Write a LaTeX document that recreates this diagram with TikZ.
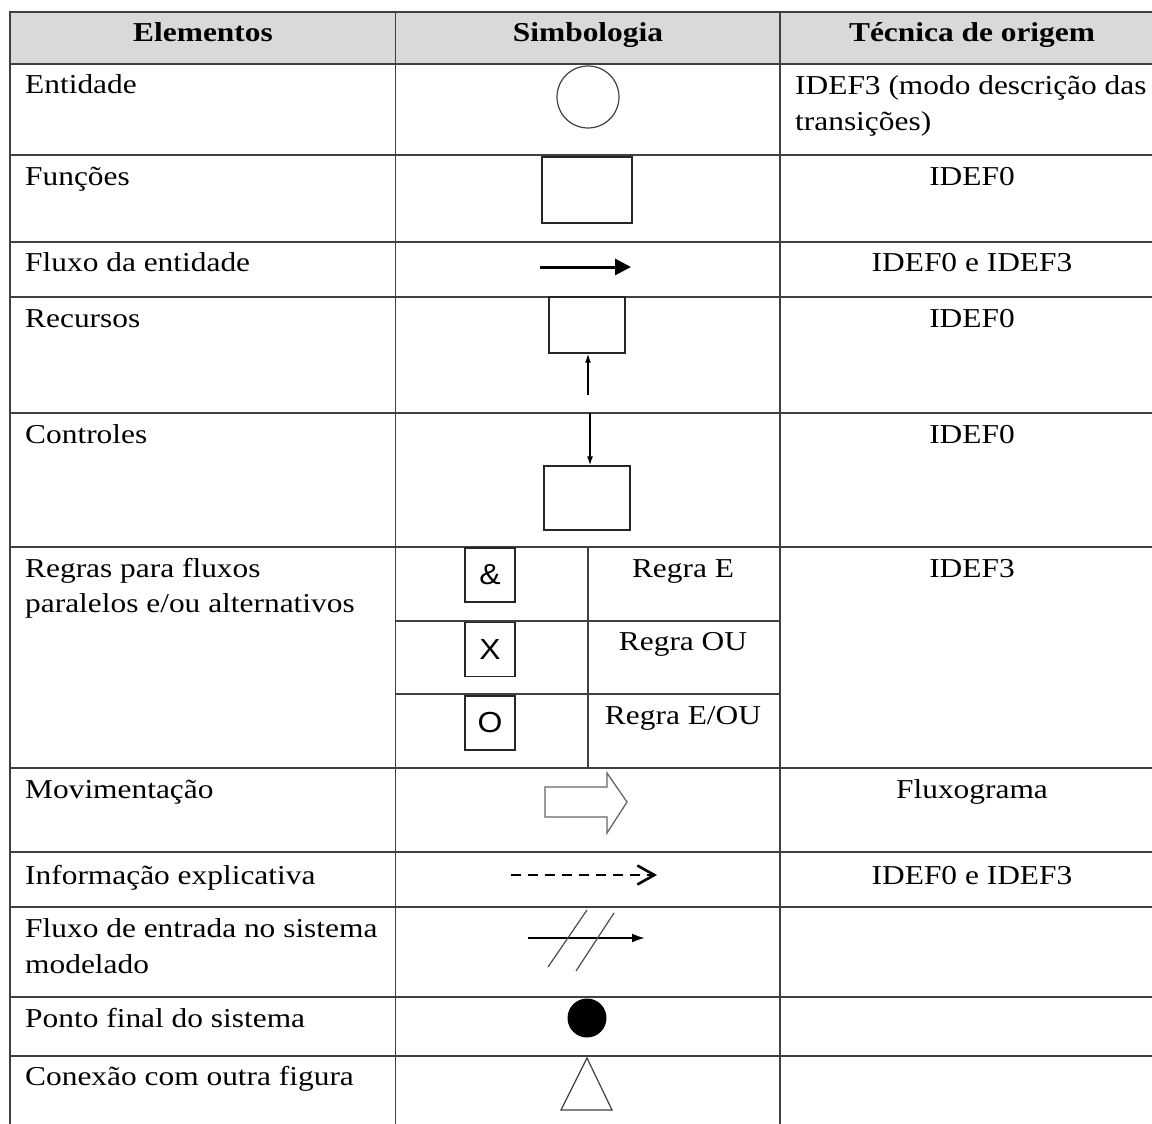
\documentclass[tikz,border=0pt]{standalone}
\usepackage{fontspec}
\setmainfont{Liberation Serif}[FakeStretch=1.15]
\newfontfamily\symfont{Liberation Sans}[FakeStretch=1.1]
\usetikzlibrary{arrows.meta}
\definecolor{hdrgray}{HTML}{D9D9D9}
\definecolor{gridc}{HTML}{404040}
\tikzset{
  lbl/.style={anchor=base west, inner sep=0pt, font=\fontsize{27.3}{35}\selectfont},
  ctr/.style={anchor=base, inner sep=0pt, font=\fontsize{27.3}{35}\selectfont},
  hdr/.style={anchor=base, inner sep=0pt, font=\fontsize{27.3}{35}\selectfont\bfseries},
  gridline/.style={draw=gridc, line width=1.4pt},
  symbox/.style={draw=black!85, line width=1.3pt, inner sep=0pt},
  rulebox/.style={draw=black!85, line width=1.3pt, inner sep=0pt, minimum width=50pt, minimum height=54pt, font=\symfont\fontsize{29}{32}\selectfont},
}
\begin{document}
\begin{tikzpicture}[x=1pt,y=-1pt]
\useasboundingbox (0,0) rectangle (1152,1124);
% header background
\fill[hdrgray] (10,12) rectangle (1160,64);
% horizontal lines
\foreach \yy in {12,64,155,242,297,413,547,768,852,907,997,1056}
  \draw[gridline] (10,\yy) -- (1160,\yy);
\draw[gridline] (395.5,621) -- (780,621);
\draw[gridline] (395.5,694) -- (780,694);
% vertical lines
\foreach \xx in {10,395.5,780}
  \draw[gridline] (\xx,11) -- (\xx,1130);
\draw[gridline] (588,547) -- (588,768);

% header
\node[hdr] (h1) at (203,42) {Elementos};
\node[hdr] (h2) at (588,42) {Simbologia};
\node[hdr] (h3) at (972,42) {Técnica de origem};

% column 1
\node[lbl] (e1) at (25,94) {Entidade};
\node[lbl] (e2) at (25,185) {Funções};
\node[lbl] (e3) at (25,271) {Fluxo da entidade};
\node[lbl] (e4) at (25,327) {Recursos};
\node[lbl] (e5) at (25,443) {Controles};
\node[lbl] (e6a) at (25,577) {Regras para fluxos};
\node[lbl] (e6b) at (25,612) {paralelos e/ou alternativos};
\node[lbl] (e7) at (25,798) {Movimentação};
\node[lbl] (e8) at (25,884) {Informação explicativa};
\node[lbl] (e9a) at (25,937) {Fluxo de entrada no sistema};
\node[lbl] (e9b) at (25,973) {modelado};
\node[lbl] (e10) at (25,1027) {Ponto final do sistema};
\node[lbl] (e11) at (25,1085) {Conexão com outra figura};

% column 3
\node[lbl] (t1a) at (795,95) {IDEF3 (modo descrição das};
\node[lbl] (t1b) at (795,130) {transições)};
\node[ctr] (t2) at (972,185) {IDEF0};
\node[ctr] (t3) at (972,271) {IDEF0 e IDEF3};
\node[ctr] (t4) at (972,327) {IDEF0};
\node[ctr] (t5) at (972,443) {IDEF0};
\node[ctr] (t6) at (972,577) {IDEF3};
\node[ctr] (t7) at (972,798) {Fluxograma};
\node[ctr] (t8) at (972,884) {IDEF0 e IDEF3};

% symbols
% entidade
\node[draw=black!75, line width=1.2pt, circle, minimum size=62pt, inner sep=0pt] (ent) at (588,97) {};
% funcoes
\node[symbox, minimum width=90pt, minimum height=66pt] (fun) at (587,190) {};
% fluxo da entidade
\coordinate (fa) at (540,267);
\coordinate (fb) at (631,267);
\draw[line width=3pt, -{Triangle[length=16pt,width=16pt]}] (fa) -- (fb);
% recursos
\node[symbox, minimum width=76pt, minimum height=56pt] (rec) at (587,325) {};
\coordinate (recin) at (588,395);
\draw[line width=1.4pt, -{Latex[length=9pt,width=6pt]}] (recin) -- (rec.south -| recin);
% controles
\node[symbox, minimum width=86pt, minimum height=64pt] (ctl) at (587,498) {};
\coordinate (ctlin) at (590,413);
\draw[line width=1.4pt, -{Latex[length=9pt,width=6pt]}] (ctlin) -- (ctl.north -| ctlin);
% regras
\node[rulebox] (rE) at (490,575) {\&};
\node[rulebox] (rX) at (490,649.5) {X};
\node[rulebox] (rO) at (490,723) {O};
\node[ctr] (lE) at (683,577) {Regra E};
\node[ctr] (lX) at (683,650) {Regra OU};
\node[ctr] (lO) at (683,724) {Regra E/OU};
% movimentacao
\draw[draw=black!60, line width=1.3pt, line join=miter] (545,787) -- (607,787) -- (607,773) -- (627,802) -- (607,833) -- (607,817) -- (545,817) -- cycle;
% informacao explicativa
\coordinate (ia) at (511,875);
\coordinate (ib) at (657,875);
\draw[line width=2.4pt, dash pattern=on 10pt off 7pt, -{Straight Barb[length=17pt,width=19pt,line width=2.6pt]}] (ia) -- (ib);
% fluxo de entrada
\coordinate (ea) at (528,938);
\coordinate (eb) at (645,938);
\draw[line width=2pt, -{Latex[length=13pt,width=9pt]}] (ea) -- (eb);
\draw[draw=black!70, line width=1.2pt] (587,910) -- (548,967);
\draw[draw=black!70, line width=1.2pt] (614,913) -- (576,971);
% ponto final
\node[circle, fill=black, minimum size=39pt, inner sep=0pt] (pf) at (587,1018) {};
% conexao
\draw[draw=black!75, line width=1.2pt, line join=miter] (587,1058) -- (612,1110) -- (561,1110) -- cycle;
\end{tikzpicture}
\end{document}
